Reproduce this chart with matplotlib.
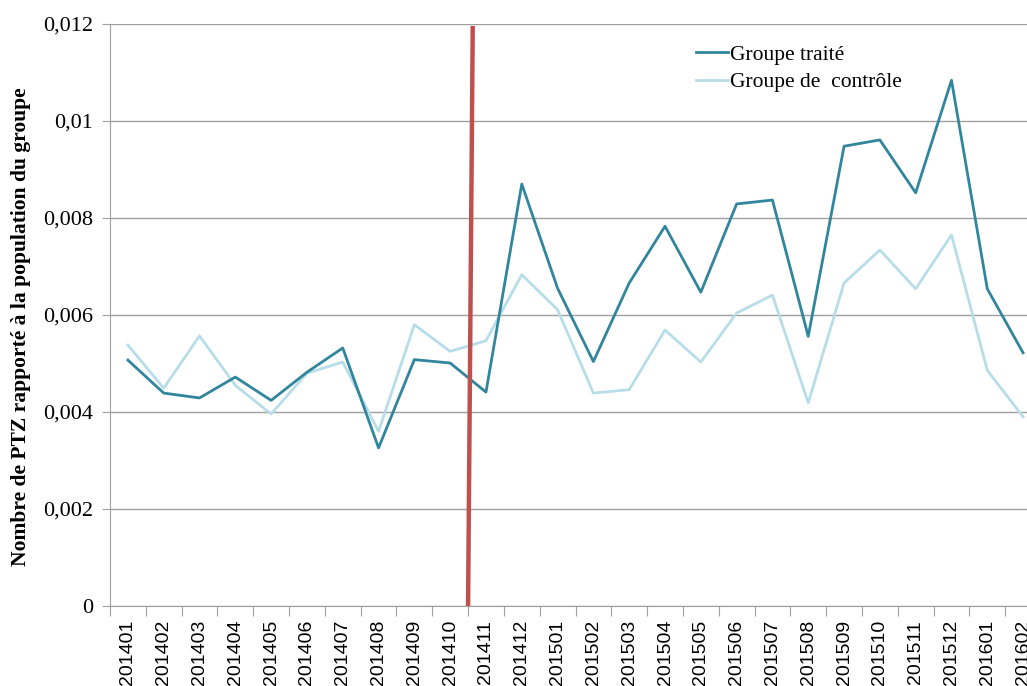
import numpy as np
import matplotlib
matplotlib.use('Agg')
import matplotlib.pyplot as plt
from matplotlib.ticker import FuncFormatter

# Monthly categories
months = ['201401', '201402', '201403', '201404', '201405', '201406', '201407',
          '201408', '201409', '201410', '201411', '201412', '201501', '201502',
          '201503', '201504', '201505', '201506', '201507', '201508', '201509',
          '201510', '201511', '201512', '201601', '201602']

# Nombre de PTZ rapporté à la population du groupe
traite = [0.00507, 0.00439, 0.00429, 0.00472, 0.00424, 0.00482, 0.00532,
          0.00326, 0.00508, 0.00501, 0.00441, 0.00870, 0.00655, 0.00504,
          0.00666, 0.00783, 0.00647, 0.00829, 0.00837, 0.00556, 0.00948,
          0.00961, 0.00852, 0.01084, 0.00654, 0.00522]
controle = [0.00538, 0.00449, 0.00557, 0.00455, 0.00396, 0.00480, 0.00503,
            0.00360, 0.00580, 0.00525, 0.00547, 0.00683, 0.00611, 0.00439,
            0.00446, 0.00569, 0.00503, 0.00604, 0.00641, 0.00419, 0.00666,
            0.00734, 0.00654, 0.00765, 0.00486, 0.00390]

# start of treatment (between 201410 and 201411)
treatment_month = '201411'

serif = ['Liberation Serif', 'DejaVu Serif']

fig = plt.figure(figsize=(10.27, 6.86), dpi=100)
ax = fig.add_axes([110 / 1027, 80 / 686, 931 / 1027, 582 / 686])

x = np.arange(len(months))
ax.plot(x, traite, color='#31859C', lw=2.0, label='Groupe traité', zorder=3)
ax.plot(x, controle, color='#B7DEE8', lw=2.0, label='Groupe de  contrôle', zorder=2)

# red vertical marker (slightly slanted, as drawn by hand)
xb = months.index(treatment_month) - 0.5
ax.plot([xb, xb + 0.13], [0, 0.01196], color='#C0504D', lw=3.2,
        solid_capstyle='butt', zorder=4, clip_on=False)

ax.set_xlim(-0.5, len(months) - 0.5)
ax.set_ylim(0, 0.012)
ax.set_yticks(np.arange(0, 0.0121, 0.002))
ax.yaxis.set_major_formatter(FuncFormatter(lambda v, p: ('%g' % round(v, 4)).replace('.', ',')))
ax.grid(axis='y', color='#A0A0A0', lw=1.0)
ax.set_axisbelow(True)

# boundaries as major ticks, labels on minor ticks at centres
ax.set_xticks(np.arange(len(months) + 1) - 0.5)
ax.set_xticklabels([])
ax.set_xticks(x, minor=True)
ax.set_xticklabels(months, minor=True, rotation=90, fontsize=14,
                   family=['Liberation Sans', 'DejaVu Sans'], va='top')
ax.tick_params(axis='x', which='major', length=7, color='#A0A0A0')
ax.tick_params(axis='x', which='minor', length=0, pad=10)
ax.tick_params(axis='y', length=6, color='#A0A0A0', pad=6)
for lab in ax.get_yticklabels():
    lab.set_family(serif)
    lab.set_fontsize(16)

for s in ['top', 'right']:
    ax.spines[s].set_visible(False)
for s in ['left', 'bottom']:
    ax.spines[s].set_color('#A0A0A0')

fig.text(21 / 1027, 1 - 327 / 686, 'Nombre de PTZ rapporté à la population du groupe',
         rotation=90, ha='center', va='center', fontsize=15.5, fontweight='bold',
         family=serif)

ax.legend(loc='upper left', bbox_to_anchor=(685 / 1027, 1 - 34 / 686),
          bbox_transform=fig.transFigure, frameon=False,
          prop={'family': serif, 'size': 15.5}, handlelength=1.5,
          handletextpad=0.1, labelspacing=0.35, borderpad=0)

fig.savefig('out.png', dpi=100)
